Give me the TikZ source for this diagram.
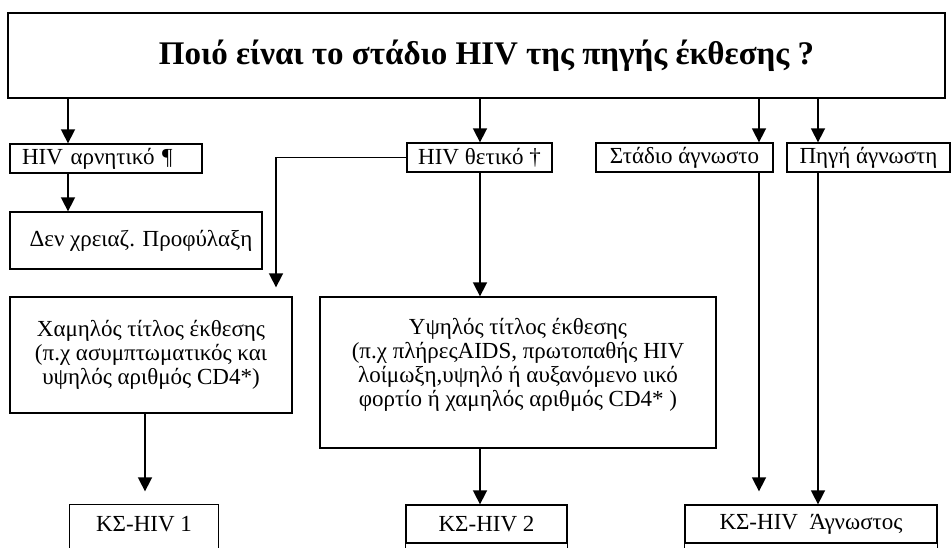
\documentclass[tikz,border=0pt]{standalone}
\usepackage{fontspec}
\setmainfont{Liberation Serif}
\usetikzlibrary{arrows.meta}
\begin{document}
\begin{tikzpicture}[x=1pt,y=-1pt,
  box/.style={draw, line width=1.3pt, inner sep=0pt, font=\fontsize{23}{24}\selectfont},
  arr/.style={line width=1.6pt, -{Triangle[width=14pt,length=14pt]}},
  edge/.style={line width=1.3pt}
]
\useasboundingbox (0,0) rectangle (951,548);
% arrow columns
\coordinate (xa) at (68,0);
\coordinate (xb) at (480,0);
\coordinate (xc) at (759,0);
\coordinate (xd) at (818,0);
\coordinate (xl) at (145,0);
\coordinate (xm) at (276,0);
% top question
\node[box, line width=2pt, minimum width=937pt, minimum height=85pt,
      font=\bfseries\fontsize{33}{36}\selectfont] (q) at (476.5,55.5)
      {\hspace*{20pt}Ποιό είναι το στάδιο HIV της πηγής έκθεσης ?};
% second row
\node[box, minimum width=192pt, minimum height=29pt, text width=168pt, align=left] (neg) at (106,158.5) {HIV αρνητικό ¶};
\node[box, minimum width=145pt, minimum height=29pt] (pos) at (479.5,157.5) {HIV θετικό †};
\node[box, minimum width=177pt, minimum height=29pt] (stu) at (684.5,157.5) {Στάδιο άγνωστο};
\node[box, minimum width=163pt, minimum height=29pt] (sru) at (868.5,157.5) {Πηγή άγνωστη};
% no prophylaxis
\node[box, minimum width=252pt, minimum height=57pt] (no) at (136,240.5) {\hspace*{10pt}Δεν χρειαζ. Προφύλαξη};
% titles
\node[box, minimum width=282pt, minimum height=116pt, align=center] (low) at (151,355)
  {Χαμηλός τίτλος έκθεσης\\(π.χ ασυμπτωματικός και\\υψηλός αριθμός CD4*)};
\node[box, minimum width=396pt, minimum height=151pt, align=center] (high) at (518,372.5)
  {Υψηλός τίτλος έκθεσης\\(π.χ πλήρεςAIDS, πρωτοπαθής HIV\\λοίμωξη,υψηλό ή αυξανόμενο ιικό\\φορτίο ή χαμηλός αριθμός CD4* )\\[-4pt]\mbox{}};
% bottom row
\node[box, draw=none, minimum width=148pt, minimum height=38pt] (k1) at (144,524) {ΚΣ-HIV 1};
\node[box, minimum width=161pt, minimum height=38pt] (k2) at (486.5,524) {ΚΣ-HIV 2};
\node[box, minimum width=252pt, minimum height=38pt] (k3) at (811,524) {ΚΣ-HIV\ \ Άγνωστος};
\draw[edge] ([yshift=-5pt]k1.south west) -- (k1.north west) -- (k1.north east) -- ([yshift=-5pt]k1.south east);
\draw[edge] (k2.south west) -- ++(0,5) (k2.south east) -- ++(0,5)
            (k3.south west) -- ++(0,5) (k3.south east) -- ++(0,5);
% connectors
\draw[arr] (q.south -| xa) -- (neg.north -| xa);
\draw[arr] (q.south -| xb) -- (pos.north -| xb);
\draw[arr] (q.south -| xc) -- (stu.north -| xc);
\draw[arr] (q.south -| xd) -- (sru.north -| xd);
\draw[arr] (neg.south -| xa) -- (no.north -| xa);
\draw[arr] (pos.west) -| ([yshift=9pt]low.north -| xm);
\draw[arr] (pos.south -| xb) -- (high.north -| xb);
\draw[arr] (low.south -| xl) -- ([yshift=13pt]k1.north -| xl);
\draw[arr] (high.south -| xb) -- (k2.north -| xb);
\draw[arr] (stu.south -| xc) -- ([yshift=13pt]k3.north -| xc);
\draw[arr] (sru.south -| xd) -- (k3.north -| xd);
\end{tikzpicture}
\end{document}
